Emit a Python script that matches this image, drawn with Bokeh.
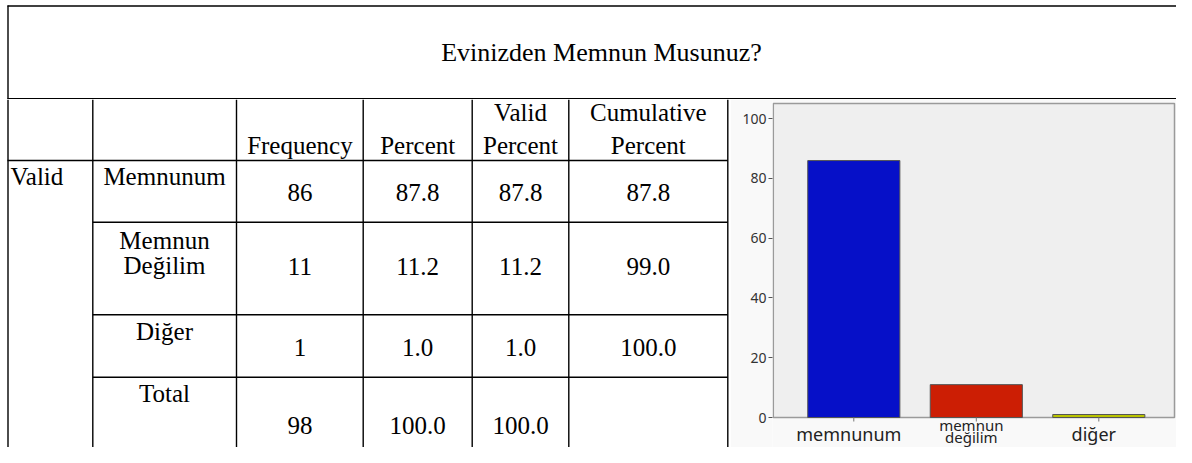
from bokeh.plotting import figure
from bokeh.layouts import column, row
from bokeh.models import Range1d, FixedTicker
from bokeh.core.properties import value
from bokeh.embed import file_html
from bokeh.resources import INLINE

# ---------------- data ----------------
title_text = "Evinizden Memnun Musunuz?"
header_labels = ["Frequency", "Percent", "Valid\nPercent", "Cumulative\nPercent"]
group_label = "Valid"
row_labels = ["Memnunum", "Memnun\nDeğilim", "Diğer", "Total"]
frequency = [86, 11, 1, 98]
percent = [87.8, 11.2, 1.0, 100.0]
valid_percent = [87.8, 11.2, 1.0, 100.0]
cumulative_percent = [87.8, 99.0, 100.0, None]

chart_categories = ["memnunum", "memnun\ndeğilim", "diğer"]
chart_counts = [86, 11, 1]
bar_colors = ["#0610c8", "#cc1e04", "#b9c300"]
y_ticks = [0, 20, 40, 60, 80, 100]

# ---------------- layout constants (page pixel coordinates) ----------------
SERIF = value("Liberation Serif")
SANS = "Noto Sans"
FS = "25px"
W, H = 1176, 447
TITLE_H = 99
col_lines = [7.5, 92.3, 236, 362.7, 471.7, 568.3, 727.3]
row_lines = [160, 221.7, 314.3, 376.7]
label_x = 164
num_cols_x = [299.4, 417.2, 520, 647.8]
header_line_y = [112, 145]
row_label_y = [[176], [240, 265], [331], [393]]
row_num_y = [192, 266, 347, 425]
TABLE_W = 730


def bare(fig):
    fig.grid.visible = False
    fig.outline_line_color = None
    fig.background_fill_color = "white"
    fig.border_fill_color = "white"
    return fig


# ---------------- title row ----------------
tf = bare(figure(width=W, height=TITLE_H, x_range=Range1d(0, W), y_range=Range1d(TITLE_H, 0),
                 x_axis_location=None, y_axis_location=None, min_border=0,
                 output_backend="svg", toolbar_location=None))
tf.segment(x0=[7, 7.5, 7], y0=[5.5, 5, 98.3], x1=[W, 7.5, W], y1=[5.5, TITLE_H, 98.3],
           line_color="black", line_width=1.4)
tf.text(x=[601], y=[52], text=[title_text], text_font=SERIF, text_font_size="26px",
        text_align="center", text_baseline="middle", text_color="black")

# ---------------- table ----------------
tb = bare(figure(width=TABLE_W, height=H - TITLE_H, x_range=Range1d(0, TABLE_W),
                 y_range=Range1d(H, TITLE_H),
                 x_axis_location=None, y_axis_location=None, min_border=0,
                 output_backend="svg", toolbar_location=None))
n = len(col_lines)
tb.segment(x0=col_lines, y0=[TITLE_H] * n, x1=col_lines, y1=[H] * n,
           line_color="black", line_width=1.4)
hx0 = [7] + [92.3] * (len(row_lines) - 1)
tb.segment(x0=hx0, y0=row_lines, x1=[727.3] * len(row_lines), y1=row_lines,
           line_color="black", line_width=1.4)

tx, ty, tt = [], [], []
for cx, h in zip(num_cols_x, header_labels):
    parts = h.split("\n")
    ys = header_line_y[-len(parts):]
    for part, yy in zip(parts, ys):
        tx.append(cx); ty.append(yy); tt.append(part)
for lab, ys in zip(row_labels, row_label_y):
    for part, yy in zip(lab.split("\n"), ys):
        tx.append(label_x); ty.append(yy); tt.append(part)
for i, yy in enumerate(row_num_y):
    vals = [str(frequency[i]), f"{percent[i]:.1f}", f"{valid_percent[i]:.1f}",
            "" if cumulative_percent[i] is None else f"{cumulative_percent[i]:.1f}"]
    for cx, v in zip(num_cols_x, vals):
        if v:
            tx.append(cx); ty.append(yy); tt.append(v)
tb.text(x=tx, y=ty, text=tt, text_font=SERIF, text_font_size=FS,
        text_align="center", text_baseline="middle", text_color="black")
tb.text(x=[10], y=[176], text=[group_label], text_font=SERIF, text_font_size=FS,
        text_align="left", text_baseline="middle", text_color="black")

# ---------------- bar chart ----------------
CH_W = W - TABLE_W
AXIS_W = 42                      # room for the y axis
FRAME_L, FRAME_R = TABLE_W + AXIS_W, W
BOX_TOP, BOX_BOTTOM = 103, 417   # pixel rows of the plot box
Y_MAX = 105.1
ppu = (BOX_BOTTOM - BOX_TOP) / Y_MAX          # pixels per count unit
FIRST_CENTER, CAT_STEP = 853.3, 122.5          # pixel layout of the categories
x_start = -(FIRST_CENTER - FRAME_L) / CAT_STEP
x_end = (FRAME_R - FIRST_CENTER) / CAT_STEP
y_start = -(H - BOX_BOTTOM) / ppu
y_end = Y_MAX + (BOX_TOP - TITLE_H) / ppu

x_pos = list(range(len(chart_categories)))

ch = figure(width=CH_W, height=H - TITLE_H, x_range=Range1d(x_start, x_end),
            y_range=Range1d(y_start, y_end), x_axis_location=None,
            min_border_left=AXIS_W, min_border_right=0, min_border_top=0, min_border_bottom=0,
            output_backend="svg", toolbar_location=None)
ch.grid.visible = False
ch.outline_line_color = None
ch.background_fill_color = "#f9f9f9"
ch.border_fill_color = "#f9f9f9"

# plot box
ch.quad(left=[x_start + 0.8 / CAT_STEP], right=[(1174 - FIRST_CENTER) / CAT_STEP],
        bottom=[0], top=[Y_MAX], fill_color="#efefef", line_color="#9a9a9a", line_width=1.5)
# bars
ch.vbar(x=x_pos, top=chart_counts, width=0.752, fill_color=bar_colors,
        line_color="#555555", line_width=1)
# x tick marks
ch.segment(x0=x_pos, y0=[0] * len(x_pos), x1=x_pos, y1=[-4 / ppu] * len(x_pos),
           line_color="#777777", line_width=1)
# x tick labels (middle of each line, in pixel rows)
lx, ly, lt, lfs = [], [], [], []
for i, cat in zip(x_pos, chart_categories):
    parts = cat.split("\n")
    if len(parts) == 1:
        specs = [(parts[0], 433, "18px")]
    else:
        specs = [(parts[0], 424.5, "15px"), (parts[1], 436.5, "15px")]
    for txt, mid_px, fs in specs:
        lx.append(i); ly.append(-(mid_px - BOX_BOTTOM) / ppu); lt.append(txt); lfs.append(fs)
ch.text(x=lx, y=ly, text=lt, text_font=value(SANS), text_font_size=lfs,
        text_color="#222222", text_align="center", text_baseline="middle", x_offset=-5)

ya = ch.yaxis[0]
ya.ticker = FixedTicker(ticks=y_ticks)
ya.axis_line_color = None
ya.major_tick_line_color = "#555555"
ya.major_tick_out = 4
ya.major_tick_in = 0
ya.minor_tick_line_color = None
ya.major_label_standoff = 2
ya.major_label_text_font = SANS
ya.major_label_text_font_size = "14px"
ya.major_label_text_color = "#333333"

layout = column(tf, row(tb, ch))
open("out.html", "w").write(file_html(layout, INLINE))
